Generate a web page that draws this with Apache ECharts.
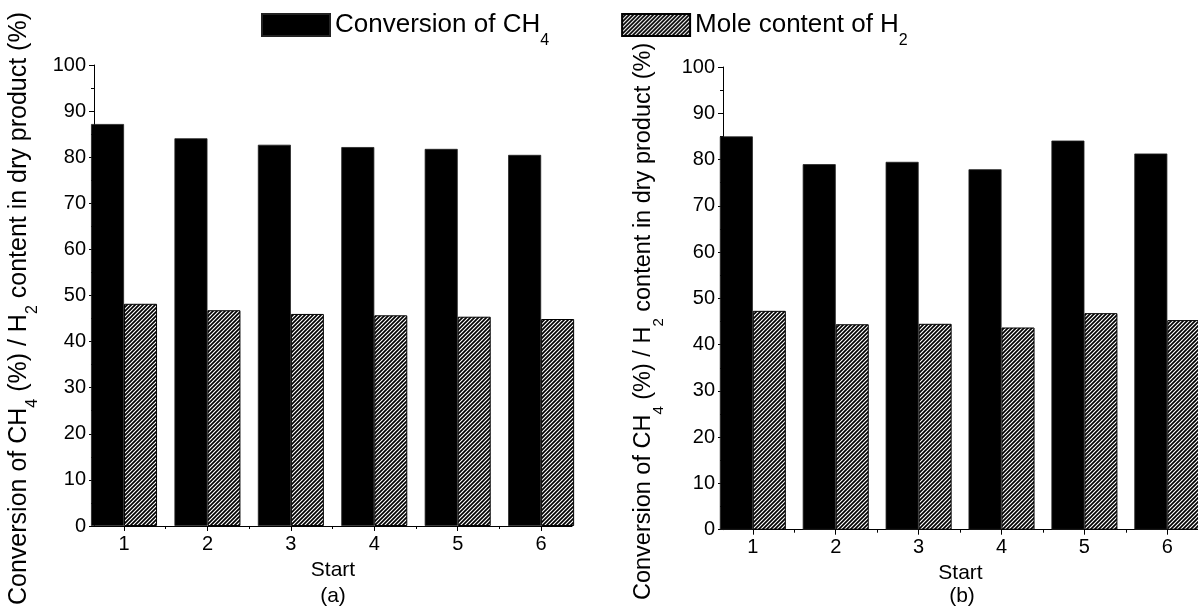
<!DOCTYPE html>
<html>
<head>
<meta charset="utf-8">
<script src="https://cdn.jsdelivr.net/npm/echarts@6/dist/echarts.min.js"></script>
<style>
html,body{margin:0;padding:0;background:#fff;}
#chart{width:1198px;height:607px;}
</style>
</head>
<body>
<div id="chart"></div>
<script>
// ---- data ----
const starts = [1, 2, 3, 4, 5, 6];
const ch4ConvA = [87.2, 84.1, 82.7, 82.2, 81.8, 80.5];
const h2ContentA = [48.2, 46.8, 46.0, 45.7, 45.4, 44.9];
const ch4ConvB = [85.0, 79.0, 79.5, 77.9, 84.1, 81.3];
const h2ContentB = [47.3, 44.4, 44.5, 43.7, 46.8, 45.3];
const xMajorTicks = [1, 2, 3, 4, 5, 6];
const xMinorTicks = [1.5, 2.5, 3.5, 4.5, 5.5];
const panelLabels = ['(a)', '(b)'];
const seriesNames = ['Conversion of CH4', 'Mole content of H2'];

// ---- styles ----
const FONT = '"Liberation Sans", Arial, Helvetica, sans-serif';

function makeHatch() {
  const c = document.createElement('canvas');
  c.width = 4; c.height = 4;
  const g = c.getContext('2d');
  g.fillStyle = '#fff';
  g.fillRect(0, 0, 4, 4);
  g.strokeStyle = '#000';
  g.lineWidth = 1.7;
  g.beginPath();
  g.moveTo(-1, 5); g.lineTo(5, -1);
  g.moveTo(-1, 1); g.lineTo(1, -1);
  g.moveTo(3, 5); g.lineTo(5, 3);
  g.stroke();
  return c;
}
const hatch = { image: makeHatch(), repeat: 'repeat' };

const chart = echarts.init(document.getElementById('chart'), null, { renderer: 'canvas' });

const grids = [
  { left: 94, top: 65, width: 478, height: 462.7 },
  { left: 723, top: 67, width: 478, height: 462.7 }
];

const xMin = 0.64, xMax = 6.37;

function mainX(gi, gap) {
  return {
    type: 'value', gridIndex: gi, min: xMin, max: xMax, position: 'bottom',
    axisLine: { show: true, onZero: false, lineStyle: { color: '#000', width: 1 } },
    axisTick: { show: true, length: 5, customValues: xMajorTicks, lineStyle: { color: '#000', width: 1 } },
    axisLabel: { show: true, customValues: xMajorTicks, color: '#000', fontSize: 20, fontFamily: FONT, margin: 8 },
    splitLine: { show: false },
    name: 'Start', nameLocation: 'middle', nameGap: gap,
    nameTextStyle: { color: '#000', fontSize: 21, fontFamily: FONT }
  };
}
function minorX(gi) {
  return {
    type: 'value', gridIndex: gi, min: xMin, max: xMax, position: 'bottom', offset: 0,
    axisLine: { show: false },
    axisTick: { show: true, length: 3, customValues: xMinorTicks, lineStyle: { color: '#000', width: 1 } },
    axisLabel: { show: false },
    splitLine: { show: false }
  };
}
function yRich(fs) {
  return {
    b: { fontSize: fs, lineHeight: 44, verticalAlign: 'middle', fontFamily: FONT, color: '#000' },
    s: { fontSize: Math.round(fs * 0.62), lineHeight: 15, verticalAlign: 'bottom', fontFamily: FONT, color: '#000' }
  };
}
function yAx(gi, gap, fs, shift) {
  return {
    type: 'value', gridIndex: gi, min: 0, max: 100, interval: 10,
    axisLine: { show: true, lineStyle: { color: '#000', width: 1 } },
    axisTick: { show: true, length: 5, lineStyle: { color: '#000', width: 1 } },
    minorTick: { show: true, splitNumber: 2, length: 3, lineStyle: { color: '#000', width: 1 } },
    axisLabel: { color: '#000', fontSize: 20, fontFamily: FONT, margin: 8 },
    splitLine: { show: false },
    name: '{b|Conversion of CH}{s|4}{b| (%) / H}{s|2}{b| content in dry product (%)}',
    nameLocation: 'middle', nameRotate: 90, nameGap: gap,
    nameTextStyle: { rich: yRich(fs), padding: [0, shift, 0, 0] }
  };
}

function toPairs(vals) { return starts.map((s, i) => [s, vals[i]]); }

function barPair(xi, yi, conv, h2) {
  return [
    {
      name: seriesNames[0], type: 'bar', xAxisIndex: xi, yAxisIndex: yi,
      data: toPairs(conv), barWidth: 33, barGap: '0%', clip: true,
      itemStyle: { color: '#000', borderColor: '#222', borderWidth: 0.8 },
      emphasis: { disabled: true }
    },
    {
      name: seriesNames[1], type: 'bar', xAxisIndex: xi, yAxisIndex: yi,
      data: toPairs(h2), barWidth: 33, barGap: '0%', clip: true,
      itemStyle: { color: hatch, borderColor: '#000', borderWidth: 1 },
      emphasis: { disabled: true }
    }
  ];
}

const option = {
  animation: false,
  backgroundColor: '#fff',
  grid: grids,
  legend: {
    show: true, left: 256, top: 7, itemWidth: 68, itemHeight: 22, itemGap: 72,
    icon: 'rect',
    data: seriesNames,
    formatter: function (n) {
      return n === seriesNames[0] ? '{b|Conversion of CH}{s|4}' : '{b|Mole content of H}{s|2}';
    },
    textStyle: {
      rich: {
        b: { fontSize: 26, lineHeight: 48, verticalAlign: 'middle', fontFamily: FONT, color: '#000' },
        s: { fontSize: 16, lineHeight: 16, verticalAlign: 'bottom', fontFamily: FONT, color: '#000' }
      }
    },
    selectedMode: false
  },
  xAxis: [mainX(0, 34), minorX(0), mainX(1, 32), minorX(1)],
  yAxis: [yAx(0, 53, 25, 26), yAx(1, 57, 23.5, 46)],
  series: [].concat(barPair(0, 0, ch4ConvA, h2ContentA), barPair(2, 1, ch4ConvB, h2ContentB)),
  graphic: [
    { type: 'text', x: 333, y: 596, style: { text: panelLabels[0], align: 'center', verticalAlign: 'middle', font: '21px ' + FONT, fill: '#000' } },
    { type: 'text', x: 962, y: 596, style: { text: panelLabels[1], align: 'center', verticalAlign: 'middle', font: '21px ' + FONT, fill: '#000' } }
  ]
};
chart.setOption(option);
</script>
</body>
</html>
